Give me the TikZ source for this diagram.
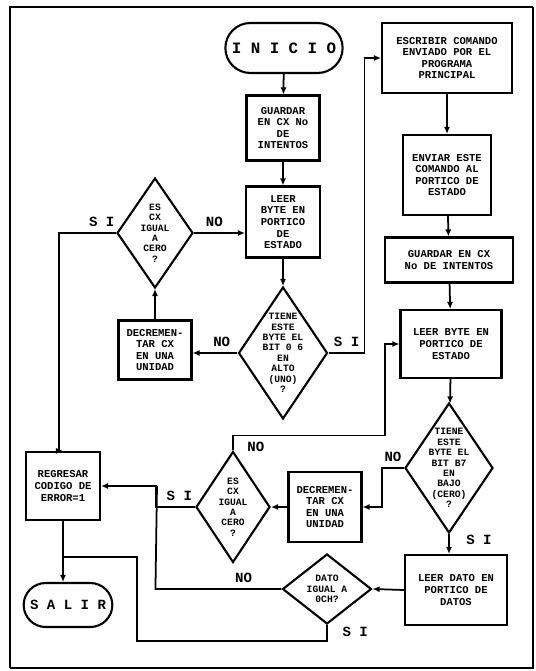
\documentclass[tikz,border=0pt]{standalone}
\usepackage{fontspec}
\setmonofont{Liberation Mono}
\usetikzlibrary{arrows.meta,positioning,shapes.geometric,shapes.misc}

\begin{document}
\begin{tikzpicture}[x=0.02cm, y=-0.02cm, >={Latex[length=4pt,width=3.5pt]},
  box/.style={draw, line width=1.2pt, inner sep=1pt, align=center, font=\ttfamily\bfseries\fontsize{6}{6.6}\selectfont},
  ask/.style={draw, diamond, line width=1.2pt, inner sep=0pt},
  asktext/.style={align=center, inner sep=0pt, font=\ttfamily\bfseries\fontsize{5.5}{5.9}\selectfont},
  term/.style={draw, rounded rectangle, line width=1.2pt, font=\ttfamily\bfseries\fontsize{9}{9}\selectfont},
  lbl/.style={font=\ttfamily\bfseries\fontsize{8}{8}\selectfont},
  link/.style={line width=1pt}]
  \useasboundingbox (0,0) rectangle (535,671);
  % marco
  \draw[line width=1.6pt] (10,668) -- (10,7) -- (533,7);
  \draw[line width=0.6pt] (533,7) -- (533,668) -- (10,668);

  % columna central
  \node[term, minimum width=2.16cm, minimum height=1.0cm] (inicio) at (284,48) {I N I C I O};
  \node[box, minimum width=1.46cm, minimum height=1.3cm] (guardA) at (283,128) {GUARDAR\\EN CX No\\DE\\INTENTOS};
  \node[box, minimum width=1.48cm, minimum height=1.42cm] (leerA) at (283,222) {LEER\\BYTE EN\\PORTICO\\DE\\ESTADO};
  \node[ask, minimum width=1.78cm, minimum height=2.64cm, label={[asktext]center:{TIENE\\ESTE\\BYTE EL\\BIT 0 6\\EN\\ALTO\\(UNO)\\?}}] (tieneA) at (283,353) {};

  % lazo izquierdo
  \node[ask, minimum width=1.52cm, minimum height=2.2cm, label={[asktext]center:{ES\\CX\\IGUAL\\A\\CERO\\?}}] (escxA) at (155,233) {};
  \node[box, minimum width=1.46cm, minimum height=1.18cm] (decA) at (155,350) {DECREMEN-\\TAR CX\\EN UNA\\UNIDAD};

  % columna derecha
  \node[box, minimum width=2.6cm, minimum height=1.4cm] (escribir) at (447,58) {ESCRIBIR COMANDO\\ENVIADO POR EL\\PROGRAMA\\PRINCIPAL};
  \node[box, minimum width=1.76cm, minimum height=1.6cm] (enviar) at (447,175) {ENVIAR ESTE\\COMANDO AL\\PORTICO DE\\ESTADO};
  \node[box, minimum width=2.56cm, minimum height=0.9cm] (guardB) at (449,260) {GUARDAR EN CX\\No DE INTENTOS};
  \node[box, minimum width=2.02cm, minimum height=1.36cm] (leerB) at (451,344) {LEER BYTE EN\\PORTICO DE\\ESTADO};
  \node[ask, minimum width=1.76cm, minimum height=2.6cm, label={[asktext]center:{TIENE\\ESTE\\BYTE EL\\BIT B7\\EN\\BAJO\\(CERO)\\?}}] (tieneB) at (449,468) {};
  \node[box, minimum width=2.04cm, minimum height=1.4cm] (dato) at (456,590) {LEER DATO EN\\PORTICO DE\\DATOS};

  % parte inferior
  \node[ask, minimum width=1.78cm, minimum height=1.4cm, label={[asktext]center:{DATO\\IGUAL A\\0CH?}}] (datoIgual) at (327,589) {};
  \node[box, minimum width=1.46cm, minimum height=1.4cm] (decB) at (325,507) {DECREMEN-\\TAR CX\\EN UNA\\UNIDAD};
  \node[ask, minimum width=1.48cm, minimum height=2.22cm, label={[asktext]center:{ES\\CX\\IGUAL\\A\\CERO\\?}}] (escxB) at (233,507) {};
  \node[box, minimum width=1.48cm, minimum height=1.36cm] (error) at (63,486) {REGRESAR\\CODIGO DE\\ERROR=1};
  \node[term, minimum width=1.68cm, minimum height=0.88cm, font=\ttfamily\bfseries\fontsize{8}{8}\selectfont] (salir) at (68,605) {S A L I R};

  \coordinate (jn) at (157,486);
  \coordinate (js) at (137,557);

  % flechas
  \draw[link,->] (inicio) -- (guardA);
  \draw[link,->] (guardA) -- (leerA);
  \draw[link,->] (leerA) -- (tieneA);
  \draw[link,->] (tieneA.east) -- node[lbl, above, pos=0.5] {S I} ++(36,0) |- (escribir.west);
  \draw[link,->] (tieneA.west) -- node[lbl, above, pos=0.35] {NO} (tieneA.west -| decA.east);
  \draw[link,->] (decA) -- (escxA);
  \draw[link,->] (escxA.east) -- node[lbl, above, pos=0.4] {NO} (escxA.east -| leerA.west);
  \draw[link,->] (escxA.west) -- node[lbl, above, pos=0.25] {S I} ++(-57,0) |- (error.north);
  \draw[link,->] (escribir) -- (enviar);
  \draw[link,->] (enviar) -- (guardB);
  \draw[link,->] (guardB) -- (leerB);
  \draw[link,->] (leerB) -- (tieneB);
  \draw[link,->] (tieneB.south) -- node[lbl, right=6pt, pos=0.3] {S I} (dato.north -| tieneB.south);
  \draw[link,->] (tieneB.west) -- node[lbl, above, pos=0.5] {NO} ++(-22,0) |- (decB.east);
  \draw[link,->] (decB.west) -- (escxB.east);
  \draw[link,->] (escxB.north) -- ++(0,-15) -- node[lbl, below, pos=0.15] {NO} ++(152,0) |- (leerB.west);
  \draw[link,->] (escxB.west) -- node[lbl, above, pos=0.4] {S I} ++(-39,0) |- (error.east);
  \draw[link,->] (dato.west) -- (datoIgual.east);
  \draw[link] (datoIgual.west) -- node[lbl, above, pos=0.3] {NO} ++(-126,0) -- (jn);
  \draw[link] (datoIgual.south) -- node[lbl, right=5pt, pos=0.4] {S I} ++(0,16) -| (js) -- (error.south |- js);
  \draw[link,->] (error.south) -- (error.south |- salir.north);
\end{tikzpicture}
\end{document}
